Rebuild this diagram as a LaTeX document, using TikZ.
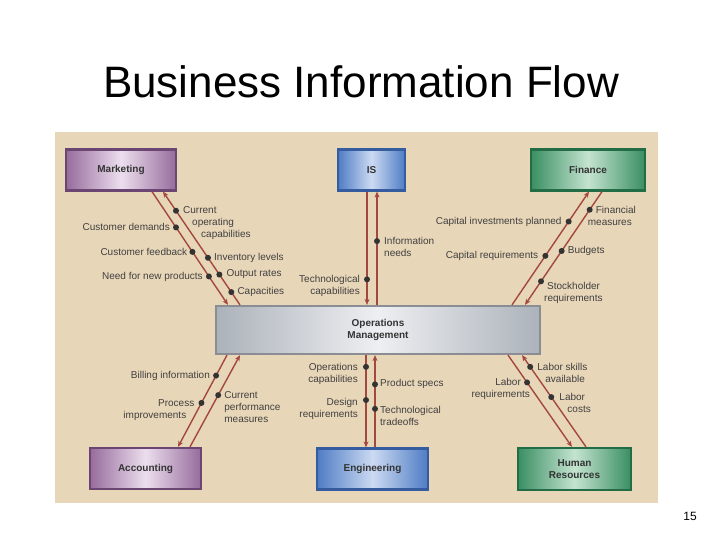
\documentclass[tikz,border=0pt]{standalone}
\usepackage{fontspec}
\setmainfont{Liberation Sans}
\usepackage{xcolor}
\usetikzlibrary{arrows.meta}

\definecolor{panel}{RGB}{232,214,184}
\definecolor{flowred}{RGB}{163,72,62}
\definecolor{purplebase}{RGB}{150,108,156}
\definecolor{purplelight}{RGB}{236,222,238}
\definecolor{purpleedge}{RGB}{108,70,114}
\definecolor{bluebase}{RGB}{78,124,196}
\definecolor{bluelight}{RGB}{204,218,242}
\definecolor{blueedge}{RGB}{52,92,158}
\definecolor{greenbase}{RGB}{58,142,98}
\definecolor{greenlight}{RGB}{196,228,208}
\definecolor{greenedge}{RGB}{34,108,70}
\definecolor{graybase}{RGB}{172,178,186}
\definecolor{graylight}{RGB}{238,239,242}
\definecolor{grayedge}{RGB}{138,142,148}

\tikzset{
  unitbox/.style={rectangle, line width=2.2pt, inner sep=0pt, align=center,
    font=\bfseries\fontsize{10}{12}\selectfont, text=black!80},
  purplebox/.style={unitbox, draw=purpleedge, left color=purplebase, right color=purplebase, middle color=purplelight},
  bluebox/.style={unitbox, draw=blueedge, left color=bluebase, right color=bluebase, middle color=bluelight},
  greenbox/.style={unitbox, draw=greenedge, left color=greenbase, right color=greenbase, middle color=greenlight},
  graybox/.style={unitbox, draw=grayedge, left color=graybase, right color=graybase, middle color=graylight},
  flow/.style={draw=flowred, line width=1.4pt, -{Stealth[length=6pt,width=5pt]}},
  dot/.style={circle, fill=black!80, minimum size=6pt, inner sep=0pt},
  lbl/.style={font=\fontsize{10}{12}\selectfont, text=black!75, inner sep=0pt}
}

\begin{document}
\begin{tikzpicture}[x=1pt, y=-1pt]
  \useasboundingbox (0,0) rectangle (720,540);
  \fill[panel] (55,132) rectangle (658,503);
  \node[font=\fontsize{44}{50}\selectfont, anchor=base] (title) at (361,98) {Business Information Flow};
  \node[font=\fontsize{12}{14}\selectfont, anchor=base] (pagenum) at (690,520) {15};

  \node[purplebox, minimum width=110pt, minimum height=41pt] (mkt) at (121,170) {Marketing};
  \node[bluebox, minimum width=67pt, minimum height=41pt] (is) at (371.5,170) {IS};
  \node[greenbox, minimum width=114pt, minimum height=41pt] (fin) at (588,170) {Finance};
  \node[graybox, minimum width=324pt, minimum height=48pt] (om) at (378,330) {Operations\\Management};
  \node[purplebox, minimum width=111pt, minimum height=41pt] (acc) at (145.5,468.5) {Accounting};
  \node[bluebox, minimum width=111pt, minimum height=41pt] (eng) at (372.5,469) {Engineering};
  \node[greenbox, minimum width=113pt, minimum height=42pt] (hr) at (574.5,469) {Human\\Resources};

  % marketing
  \draw[flow] ([xshift=31pt]mkt.south) -- ([xshift=-150pt]om.north)
    node[dot, pos=.316] (mb) {} node[dot, pos=.532] (mc) {} node[dot, pos=.749] (me) {};
  \draw[flow] ([xshift=-138pt]om.north) -- ([xshift=42pt]mkt.south)
    node[dot, pos=.831] (ma) {} node[dot, pos=.416] (md) {} node[dot, pos=.268] (mf) {} node[dot, pos=.113] (mg) {};
  \node[lbl, anchor=north west, align=left] at ([shift={(7,-4)}]ma) {Current\\\hspace*{9pt}operating\\\hspace*{18pt}capabilities};
  \node[lbl, anchor=east] at ([xshift=-6pt]mb) {Customer demands};
  \node[lbl, anchor=east] at ([xshift=-5pt]mc) {Customer feedback};
  \node[lbl, anchor=west] at ([xshift=6pt]md) {Inventory levels};
  \node[lbl, anchor=east] at ([xshift=-6pt]me) {Need for new products};
  \node[lbl, anchor=west] at ([xshift=7pt]mf) {Output rates};
  \node[lbl, anchor=west] at ([xshift=6pt]mg) {Capacities};

  % IS
  \draw[flow] ([xshift=-4.5pt]is.south) -- ([xshift=-11pt]om.north)
    node[dot, pos=.775] (ib) {};
  \draw[flow] ([xshift=-1pt]om.north) -- ([xshift=5.5pt]is.south)
    node[dot, pos=.563] (ia) {};
  \node[lbl, anchor=north west, align=left] at ([shift={(7,-4)}]ia) {Information\\needs};
  \node[lbl, anchor=north east, align=right] at ([shift={(-7,-4)}]ib) {Technological\\capabilities};

  % finance
  \draw[flow] ([xshift=134pt]om.north) -- ([xshift=1pt]fin.south)
    node[dot, pos=.736] (fb) {} node[dot, pos=.433] (fd) {};
  \draw[flow] ([xshift=14pt]fin.south) -- ([xshift=147pt]om.north)
    node[dot, pos=.160] (fa) {} node[dot, pos=.524] (fc) {} node[dot, pos=.792] (fe) {};
  \node[lbl, anchor=north west, align=left] at ([shift={(-2,-4)}]fa) {\hspace*{8pt}Financial\\measures};
  \node[lbl, anchor=east] at ([xshift=-7pt]fb) {Capital investments planned};
  \node[lbl, anchor=west] at ([xshift=6pt]fc) {Budgets};
  \node[lbl, anchor=east] at ([xshift=-7pt]fd) {Capital requirements};
  \node[lbl, anchor=north west, align=left] at ([shift={(3,1)}]fe) {\hspace*{3pt}Stockholder\\requirements};

  % accounting
  \draw[flow] ([xshift=-151pt]om.south) -- ([xshift=32.5pt]acc.north)
    node[dot, pos=.223] (aa) {} node[dot, pos=.521] (ab) {};
  \draw[flow] ([xshift=44.5pt]acc.north) -- ([xshift=-138pt]om.south)
    node[dot, pos=.564] (ac) {};
  \node[lbl, anchor=east] at ([xshift=-6pt]aa) {Billing information};
  \node[lbl, anchor=north east, align=right] at ([shift={(-7,-4)}]ab) {Process\\improvements\hspace*{8pt}};
  \node[lbl, anchor=north west, align=left] at ([shift={(6,-4)}]ac) {Current\\performance\\measures};

  % engineering
  \draw[flow] ([xshift=-12pt]om.south) -- ([xshift=-6.5pt]eng.north)
    node[dot, pos=.127] (ea) {} node[dot, pos=.487] (ec) {};
  \draw[flow] ([xshift=2.5pt]eng.north) -- ([xshift=-3pt]om.south)
    node[dot, pos=.683] (eb) {} node[dot, pos=.418] (ed) {};
  \node[lbl, anchor=north east, align=right] at ([shift={(-8,-4)}]ea) {Operations\\capabilities};
  \node[lbl, anchor=west] at ([xshift=5pt]eb) {Product specs};
  \node[lbl, anchor=north east, align=right] at ([shift={(-8,-2)}]ec) {Design\\requirements};
  \node[lbl, anchor=north west, align=left] at ([shift={(5,-3)}]ed) {Technological\\tradeoffs};

  % human resources
  \draw[flow] ([xshift=130pt]om.south) -- ([xshift=-2.5pt]hr.north)
    node[dot, pos=.298] (hb) {};
  \draw[flow] ([xshift=11.5pt]hr.north) -- ([xshift=144pt]om.south)
    node[dot, pos=.872] (ha) {} node[dot, pos=.543] (hc) {};
  \node[lbl, anchor=north west, align=left] at ([shift={(7,-4)}]ha) {Labor skills\\\hspace*{8pt}available};
  \node[lbl, anchor=north east, align=right] at ([shift={(3,-4)}]hb) {Labor\hspace*{9pt}\\requirements};
  \node[lbl, anchor=north west, align=left] at ([shift={(8,-4)}]hc) {Labor\\\hspace*{8pt}costs};
\end{tikzpicture}
\end{document}
